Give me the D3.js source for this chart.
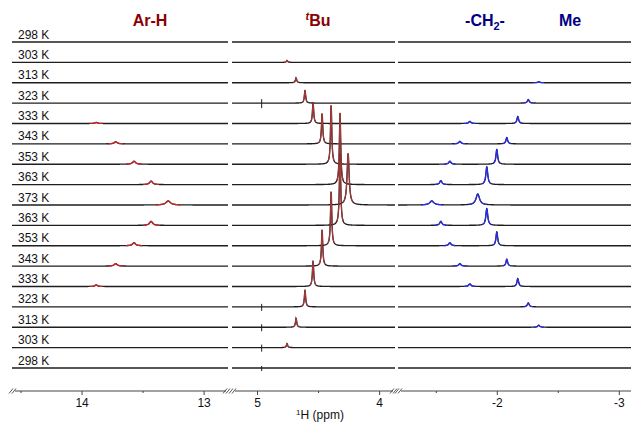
<!DOCTYPE html>
<html><head><meta charset="utf-8">
<script src="https://cdn.jsdelivr.net/npm/d3@7"></script>
<style>body{margin:0;background:#fff} svg{display:block} text{font-family:Arial,"Liberation Sans",sans-serif}</style>
</head><body><svg id="c" width="632" height="424"></svg>
<script>
// ---- data ----
const temps = [298,303,313,323,333,343,353,363,373,363,353,343,333,323,313,303,298];
const rowLabels = temps.map(t => t + " K");
// Ar-H signal (ppm, height, FWHM ppm)
const arhPos    = [null,null,null,null,13.88,13.72,13.57,13.43,13.29,13.43,13.57,13.72,13.88,null,null,null,null];
const arhHeight = [0,0,0,0,1,2,3,3.5,4,4,3,2.5,1.5,0,0,0,0];
const arhFwhm   = [0,0,0,0,0.025,0.03,0.03,0.03,0.045,0.03,0.03,0.03,0.025,0,0,0,0];
// tBu signal
const tbuPos    = [null,4.754,4.680,4.607,4.541,4.467,4.393,4.320,4.254,4.320,4.393,4.467,4.541,4.607,4.680,4.754,null];
const tbuHeight = [0,2,5,13,21,31,61,72,52,72,56,37,26,17,9,4,0];
const tbuFwhm   = [0,0.012,0.012,0.012,0.012,0.012,0.012,0.013,0.02,0.013,0.012,0.012,0.012,0.012,0.012,0.012,0];
// -CH2- signal
const ch2Pos    = [null,null,null,null,-1.779,-1.697,-1.615,-1.541,-1.467,-1.541,-1.615,-1.697,-1.779,null,null,null,null];
const ch2Height = [0,0,0,0,2,2.5,3,4,4,4,3,2.5,2.5,0,0,0,0];
const ch2Fwhm   = [0,0,0,0,0.022,0.022,0.022,0.022,0.04,0.022,0.022,0.022,0.022,0,0,0,0];
// Me signal
const mePos     = [null,null,-2.344,-2.258,-2.172,-2.082,-2.000,-1.918,-1.844,-1.918,-2.000,-2.082,-2.172,-2.258,-2.344,null,null];
const meHeight  = [0,0,1,3.5,7,6.5,15,18,11,17,14,7,8,4,2,0,0];
const meFwhm    = [0,0,0.02,0.018,0.016,0.016,0.016,0.018,0.035,0.018,0.016,0.016,0.016,0.018,0.02,0,0];
// small instrumental spike in the tBu window
const spikePos = 4.962;
const spikeRows = [3,13,14,15,16];
const spikeAmp  = [4,3,3,3,2];

const titles = [
  {parts:[{t:"Ar-H"}], x:150, color:"#8b0000"},
  {parts:[{t:"t",sup:true,it:true},{t:"Bu"}], x:318, color:"#8b0000"},
  {parts:[{t:"-CH"},{t:"2",sub:true},{t:"-"}], x:485, color:"#000080"},
  {parts:[{t:"Me"}], x:570, color:"#000080"}
];

const panels = [
  {domain:[14.57,12.80], range:[12,228], major:[14,13], minor:[14.5,13.5], breakL:true, breakR:true},
  {domain:[5.205,3.87],  range:[232,395], major:[5,4], minor:[4.5], breakL:true, breakR:true},
  {domain:[-1.19,-3.10], range:[398,631], major:[-2,-3], minor:[-1.5,-2.5], breakL:true, breakR:false}
];

const groups = [
  {pos:arhPos, h:arhHeight, w:arhFwhm, color:"#c8252b", sw:1.3, panel:0},
  {pos:tbuPos, h:tbuHeight, w:tbuFwhm, color:"#a83838", sw:1.1, panel:1},
  {pos:ch2Pos, h:ch2Height, w:ch2Fwhm, color:"#2b2bea", sw:1.3, panel:2},
  {pos:mePos,  h:meHeight,  w:meFwhm,  color:"#2b2bea", sw:1.2, panel:2}
];

// ---- drawing ----
const svg = d3.select("#c");
const rowY = d3.scaleLinear().domain([0,16]).range([42,368]);
const inten = d3.scaleLinear().domain([0,100]).range([0,-100]);
const axisY = 391;

function lor(x, x0, h, fwhm){ const g = fwhm/2; return h*g*g/((x-x0)*(x-x0)+g*g); }

panels.forEach((p, pi) => {
  p.x = d3.scaleLinear().domain(p.domain).range(p.range);
  const n = Math.round((p.range[1]-p.range[0])*3);
  const ppm = d3.range(n+1).map(k => p.x.invert(p.range[0] + k*(p.range[1]-p.range[0])/n));
  const myGroups = groups.filter(g => g.panel === pi);
  const g = svg.append("g");
  temps.forEach((t, i) => {
    const pts = ppm.map(u => {
      let v = 0;
      myGroups.forEach(gr => { if (gr.pos[i] !== null) v += lor(u, gr.pos[i], gr.h[i], gr.w[i]); });
      return {u, v};
    });
    const line = d3.line().x(d => p.x(d.u)).y(d => rowY(i) + inten(d.v));
    g.append("path").attr("d", line(pts)).attr("fill","none")
      .attr("stroke","#1e1e1e").attr("stroke-width",1.35);
    if (pi === 1) {
      const si = spikeRows.indexOf(i);
      if (si >= 0) {
        const sx = p.x(spikePos);
        g.append("line").attr("x1",sx).attr("x2",sx)
          .attr("y1", rowY(i)+inten(spikeAmp[si])).attr("y2", rowY(i)-inten(spikeAmp[si]+1))
          .attr("stroke","#1e1e1e").attr("stroke-width",1);
      }
    }
    myGroups.forEach(gr => {
      if (gr.pos[i] === null) return;
      const span = Math.max(gr.w[i]*2.2, 0.025);
      const seg = pts.filter(d => Math.abs(d.u - gr.pos[i]) <= span);
      g.append("path").attr("d", line(seg)).attr("fill","none")
        .attr("stroke", gr.color).attr("stroke-width",gr.sw).attr("stroke-linejoin","round");
    });
  });

  const ax = svg.append("g").attr("transform", `translate(0,${axisY})`);
  const major = d3.axisBottom(p.x).tickValues(p.major).tickSize(4).tickSizeOuter(0).tickFormat(d => String(d));
  ax.call(major);
  ax.select(".domain").attr("d", `M${p.range[0]+3},0H${p.range[1]-(p.breakR?2:0)}`).attr("stroke","#444");
  ax.selectAll(".tick line").attr("stroke","#444");
  ax.selectAll(".tick text").attr("font-size",12).attr("font-family","Arial, 'Liberation Sans', sans-serif").attr("fill","#111");
  const mg = svg.append("g").attr("transform", `translate(0,${axisY})`);
  mg.call(d3.axisBottom(p.x).tickValues(p.minor).tickSize(2).tickSizeOuter(0).tickFormat(""));
  mg.select(".domain").remove();
  mg.selectAll(".tick line").attr("stroke","#444");
  const marks = [];
  if (p.breakL) marks.push(p.range[0]-1, p.range[0]+2);
  if (p.breakR) marks.push(p.range[1]-3, p.range[1]);
  svg.append("g").selectAll("line").data(marks).join("line")
    .attr("x1", d => d-2).attr("y1", axisY+2.5).attr("x2", d => d+2).attr("y2", axisY-2.5)
    .attr("stroke","#444").attr("stroke-width",0.9);
});

svg.append("g").selectAll("text").data(rowLabels).join("text")
  .attr("x", 18).attr("y", (d,i) => rowY(i) - 3.5)
  .attr("font-size", 12).attr("fill","#111").text(d => d);

titles.forEach(tt => {
  const t = svg.append("text").attr("x", tt.x).attr("y", 26).attr("text-anchor","middle")
    .attr("font-size",16).attr("font-weight","bold").attr("fill", tt.color);
  tt.parts.forEach((pt, k) => {
    const s = t.append("tspan").text(pt.t);
    const prev = tt.parts[k-1];
    if (pt.sup) s.attr("font-size",11).attr("dy",-6);
    if (pt.it) s.attr("font-style","italic");
    if (pt.sub) s.attr("font-size",11).attr("dy",4);
    if (!pt.sup && !pt.sub && prev) {
      if (prev.sup) s.attr("dy",6);
      if (prev.sub) s.attr("dy",-4);
    }
  });
});

const xt = svg.append("text").attr("x", 320).attr("y", 419).attr("text-anchor","middle")
  .attr("font-size",12).attr("fill","#111");
xt.append("tspan").text("1").attr("font-size",8).attr("dy",-4);
xt.append("tspan").text("H (ppm)").attr("dy",4);
</script></body></html>
